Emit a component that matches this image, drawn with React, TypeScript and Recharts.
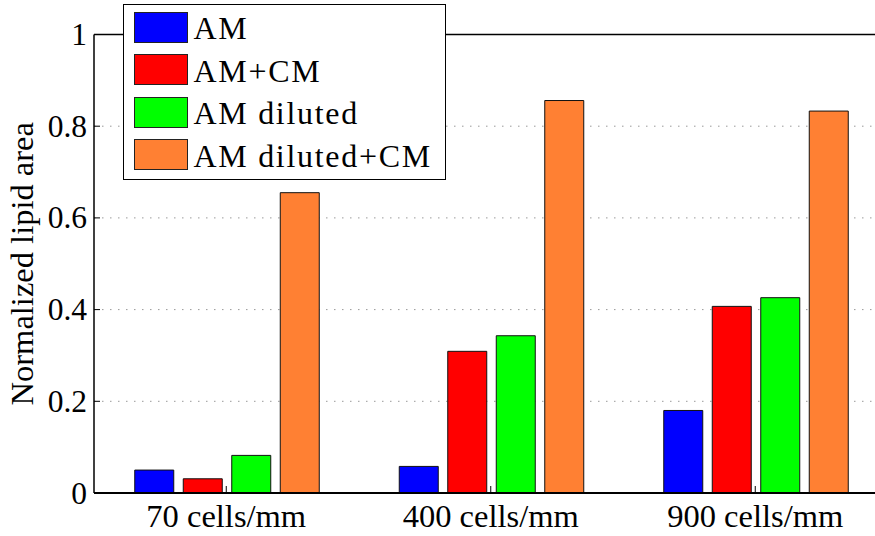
import React from 'react';
import { BarChart, Bar, XAxis, YAxis, CartesianGrid, ReferenceLine, Legend } from 'recharts';

const categories = ['70 cells/mm', '400 cells/mm', '900 cells/mm'];
const am = [0.05, 0.058, 0.18];
const amCm = [0.031, 0.309, 0.407];
const amDiluted = [0.082, 0.343, 0.426];
const amDilutedCm = [0.655, 0.856, 0.833];
const seriesNames = ['AM', 'AM+CM', 'AM diluted', 'AM diluted+CM'];
const seriesKeys = ['am', 'amCm', 'amDiluted', 'amDilutedCm'];
const seriesColors = ['#0000FF', '#FF0000', '#00FF00', '#FF8033'];
const yTicks = [0, 0.2, 0.4, 0.6, 0.8, 1];
const yLabel = 'Normalized lipid area';

const data = categories.map((c, i) => ({
  name: c,
  am: am[i],
  amCm: amCm[i],
  amDiluted: amDiluted[i],
  amDilutedCm: amDilutedCm[i],
}));

const FONT = '"Liberation Serif", "Times New Roman", serif';

const XTick = (props: any) => {
  const { x, y, payload } = props;
  return (
    <g>
      <line x1={x} x2={x} y1={y} y2={y - 7} stroke="#000" strokeWidth={1} />
      <text x={x} y={y + 34} textAnchor="middle" fontFamily={FONT} fontSize={32.5} fill="#000">
        {payload.value}
      </text>
    </g>
  );
};

const YTick = (props: any) => {
  const { x, y, payload } = props;
  return (
    <g>
      <line x1={x} x2={x + 6} y1={y} y2={y} stroke="#000" strokeWidth={1} />
      <text x={x - 7} y={y + 10.5} textAnchor="end" fontFamily={FONT} fontSize={31.5} fill="#000">
        {String(payload.value)}
      </text>
    </g>
  );
};

const renderLegend = () => (
  <div
    style={{
      boxSizing: 'border-box',
      width: 323,
      height: 176,
      border: '1.5px solid #000',
      background: '#fff',
      paddingTop: 1,
      paddingLeft: 9.5,
    }}
  >
    {seriesNames.map((n, i) => (
      <div key={n} style={{ height: 42.5, display: 'flex', alignItems: 'center' }}>
        <div
          style={{
            boxSizing: 'border-box',
            width: 54,
            height: 31,
            background: seriesColors[i],
            border: '1px solid #222',
          }}
        />
        <span
          style={{
            marginLeft: 6,
            fontFamily: FONT,
            fontSize: 32,
            letterSpacing: 1.7,
            lineHeight: '32px',
            color: '#000',
            whiteSpace: 'nowrap',
            position: 'relative',
            top: 1,
          }}
        >
          {n}
        </span>
      </div>
    ))}
  </div>
);

const YLabel = (props: any) => {
  const { viewBox } = props;
  const cy = viewBox.y + viewBox.height / 2;
  return (
    <text
      transform={`translate(33, ${cy}) rotate(-90)`}
      textAnchor="middle"
      fontFamily={FONT}
      fontSize={32.5}
      fill="#000"
    >
      {yLabel}
    </text>
  );
};

export default function App() {
  return (
    <div style={{ position: 'absolute', left: 0, top: 0, width: 875, height: 536, overflow: 'hidden', background: '#fff' }}>
      <BarChart
        width={900}
        height={536}
        data={data}
        margin={{ top: 34.5, right: 12.5, bottom: 0, left: 0 }}
        barCategoryGap={40.75}
        barGap={9.5}
      >
        <CartesianGrid vertical={false} stroke="#999" strokeDasharray="1.5 6.5" strokeWidth={1} />
        <XAxis
          dataKey="name"
          height={43}
          tick={<XTick />}
          tickLine={false}
          tickSize={0}
          tickMargin={0}
          axisLine={{ stroke: '#000', strokeWidth: 2 }}
          interval={0}
        />
        <YAxis
          width={94}
          domain={[0, 1]}
          ticks={yTicks}
          tick={<YTick />}
          tickLine={false}
          tickSize={0}
          tickMargin={0}
          axisLine={{ stroke: '#000', strokeWidth: 1.5 }}
          label={<YLabel />}
        />
        <ReferenceLine y={1} stroke="#000" strokeWidth={1.5} />
        {seriesKeys.map((k, i) => (
          <Bar
            key={k}
            dataKey={k}
            name={seriesNames[i]}
            fill={seriesColors[i]}
            stroke="#111"
            strokeWidth={1}
            isAnimationActive={false}
          />
        ))}
        <Legend
          layout="vertical"
          align="center"
          verticalAlign="middle"
          content={renderLegend}
          wrapperStyle={{ left: 123, top: 4, width: 323, height: 176 }}
        />
      </BarChart>
    </div>
  );
}
